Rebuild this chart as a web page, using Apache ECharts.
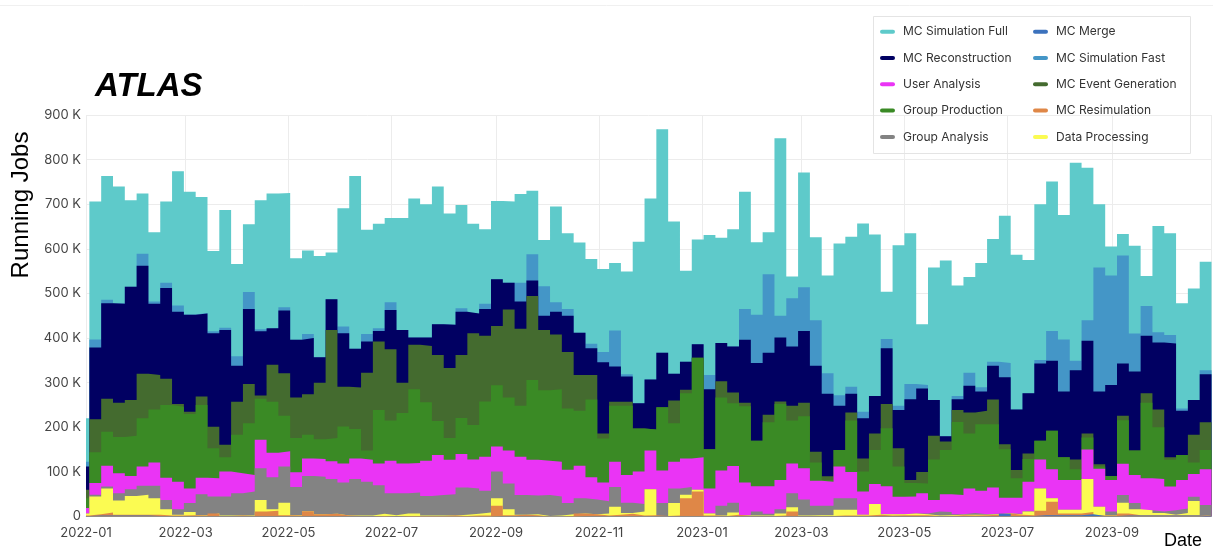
<!DOCTYPE html>
<html><head><meta charset="utf-8">
<script src="https://cdn.jsdelivr.net/npm/echarts@6/dist/echarts.min.js"></script>
<style>html,body{margin:0;padding:0;background:#fff}#c{width:1213px;height:549px}</style>
</head><body><div id="c"></div>
<script>
// Weekly bins (Monday start), values in thousands of running jobs
const weeks = [
'2021-12-27',
'2022-01-03','2022-01-10','2022-01-17','2022-01-24','2022-01-31',
'2022-02-07','2022-02-14','2022-02-21','2022-02-28',
'2022-03-07','2022-03-14','2022-03-21','2022-03-28',
'2022-04-04','2022-04-11','2022-04-18','2022-04-25',
'2022-05-02','2022-05-09','2022-05-16','2022-05-23','2022-05-30',
'2022-06-06','2022-06-13','2022-06-20','2022-06-27',
'2022-07-04','2022-07-11','2022-07-18','2022-07-25',
'2022-08-01','2022-08-08','2022-08-15','2022-08-22','2022-08-29',
'2022-09-05','2022-09-12','2022-09-19','2022-09-26',
'2022-10-03','2022-10-10','2022-10-17','2022-10-24','2022-10-31',
'2022-11-07','2022-11-14','2022-11-21','2022-11-28',
'2022-12-05','2022-12-12','2022-12-19','2022-12-26',
'2023-01-02','2023-01-09','2023-01-16','2023-01-23','2023-01-30',
'2023-02-06','2023-02-13','2023-02-20','2023-02-27',
'2023-03-06','2023-03-13','2023-03-20','2023-03-27',
'2023-04-03','2023-04-10','2023-04-17','2023-04-24',
'2023-05-01','2023-05-08','2023-05-15','2023-05-22','2023-05-29',
'2023-06-05','2023-06-12','2023-06-19','2023-06-26',
'2023-07-03','2023-07-10','2023-07-17','2023-07-24','2023-07-31',
'2023-08-07','2023-08-14','2023-08-21','2023-08-28',
'2023-09-04','2023-09-11','2023-09-18','2023-09-25',
'2023-10-02','2023-10-09','2023-10-16','2023-10-23'
];
const axisStart = '2022-01-01';
const axisEnd = '2023-10-30';

const mcSimulationFull = [97,
309,277,262,194,135,155,182,301,275,260,
180,264,207,152,289,302,256,183,187,227,
105,265,387,234,234,189,251,312,299,309,
249,231,201,167,175,182,199,142,104,215,
170,202,190,186,151,230,362,406,501,341,
204,235,314,236,263,263,163,94,398,49,
257,186,219,340,336,422,362,106,360,338,
136,297,394,248,215,278,275,330,347,299,
349,335,279,444,342,142,65,48,197,67,
238,228,236,250,243];
const mcSimulationFast = [11,
18,8,1,0,27,5,12,14,1,1,
4,5,21,38,5,0,7,0,9,0,
0,15,0,17,6,17,0,0,0,0,
0,8,0,12,0,0,42,59,66,21,
15,0,10,23,81,5,0,0,0,0,
0,0,32,0,0,69,108,176,49,108,
98,102,46,24,16,15,0,21,9,34,
8,0,0,7,29,10,9,32,0,0,
8,67,117,21,46,278,245,242,85,67,
23,19,5,0,9];
const mcReconstruction = [52,
161,214,222,254,242,160,203,207,217,186,
210,257,81,168,144,82,141,129,126,57,
69,120,87,70,24,88,118,16,19,69,
97,97,44,60,105,60,61,35,32,51,
81,95,60,160,79,57,57,112,122,60,
63,30,134,86,103,141,174,139,143,133,
161,193,185,99,42,90,84,125,86,181,
187,80,12,24,60,43,76,150,136,135,
173,157,147,200,208,163,204,117,177,129,
150,255,99,78,108];
const mcEventGeneration = [19,
74,74,77,80,100,77,59,6,5,19,
48,28,74,88,7,83,95,91,91,127,
242,89,93,174,153,160,68,100,126,148,
157,141,206,147,133,197,173,188,135,123,
127,80,55,11,9,9,0,0,0,51,
8,0,0,36,24,8,0,17,6,33,
30,24,8,0,18,29,37,54,41,7,
26,53,19,27,47,30,55,11,18,12,
0,0,0,22,9,5,0,10,0,21,
40,6,0,62,62];
const groupProduction = [22,
69,76,81,90,108,119,163,168,167,163,
67,32,86,116,92,114,80,77,53,44,
52,83,66,21,120,90,113,165,131,76,
49,81,77,124,137,119,114,179,158,162,
137,123,174,99,125,155,96,47,142,86,
146,223,88,164,141,171,102,143,170,96,
117,41,4,37,115,45,76,130,68,30,
22,91,99,164,123,149,142,109,44,51,
42,86,51,24,27,5,9,98,55,169,
116,60,56,26,43];
const userAnalysis = [12,
26,47,45,30,43,52,50,62,33,37,
41,56,45,37,64,55,34,33,39,40,
40,43,46,49,49,73,67,66,79,90,
77,75,65,76,56,74,86,80,77,78,
75,73,50,42,57,62,73,87,73,60,
64,73,56,79,82,73,57,62,66,67,
70,56,54,71,59,52,45,63,39,38,
45,26,40,43,55,53,59,35,36,66,
65,65,67,67,66,85,71,70,63,72,
73,53,64,51,80];
const groupAnalysis = [0,
4,4,16,15,20,28,21,12,20,47,
38,43,50,54,71,72,81,63,79,84,
78,74,82,76,64,49,45,47,44,46,
48,61,57,49,60,58,44,42,47,43,
25,34,33,27,44,23,17,0,29,33,
17,0,0,22,22,1,9,4,9,31,
36,21,21,26,26,0,0,0,0,0,
2,9,7,1,4,1,1,0,1,1,
0,0,0,0,0,0,9,17,14,0,
3,10,10,9,24];
const dataProcessing = [5,
40,54,32,42,45,37,14,2,7,1,
0,1,0,1,26,3,28,1,0,0,
0,0,1,1,5,2,6,6,1,1,
0,3,4,7,17,13,0,2,1,2,
4,0,0,5,18,2,9,58,0,28,
8,4,5,1,5,1,1,1,5,10,
1,2,2,13,13,2,24,3,2,4,
2,1,2,1,2,1,1,0,1,8,
50,8,8,8,74,20,0,24,13,11,
5,1,5,32,0];
const mcResimulation = [1,
3,7,2,2,2,3,1,1,2,1,
6,0,1,0,10,12,2,1,11,4,
5,1,0,0,1,0,1,1,1,1,
2,1,2,2,23,2,3,2,0,0,
1,6,4,1,3,5,1,2,0,1,
40,55,1,0,3,0,0,0,1,10,
0,0,0,1,1,1,3,1,2,2,
2,0,0,2,1,2,3,1,3,2,
10,30,4,4,5,1,1,5,1,1,
1,1,1,1,1];
const mcMerge = [1,
2,2,2,2,2,1,1,1,1,1,
1,1,1,1,1,1,1,1,1,1,
1,1,1,1,0,1,0,0,0,0,
0,0,0,0,1,1,1,1,0,0,
0,1,1,1,1,1,1,1,1,1,
1,1,1,1,1,1,1,1,1,1,
1,1,1,1,1,1,1,1,1,1,
1,1,1,1,1,1,1,6,1,1,
3,3,3,3,5,1,1,2,2,2,
2,2,2,2,1];

const yTicks = [0,100,200,300,400,500,600,700,800,900];
const legendCol1 = ['MC Simulation Full','MC Reconstruction','User Analysis','Group Production','Group Analysis'];
const legendCol2 = ['MC Merge','MC Simulation Fast','MC Event Generation','MC Resimulation','Data Processing'];

// stacking order bottom -> top
const layers = [
  {name:'MC Merge', values:mcMerge, color:'#3c72bd'},
  {name:'MC Resimulation', values:mcResimulation, color:'#df8747'},
  {name:'Data Processing', values:dataProcessing, color:'#fbfb52'},
  {name:'Group Analysis', values:groupAnalysis, color:'#838383'},
  {name:'User Analysis', values:userAnalysis, color:'#ea34f5'},
  {name:'Group Production', values:groupProduction, color:'#3a8a25'},
  {name:'MC Event Generation', values:mcEventGeneration, color:'#446b2f'},
  {name:'MC Reconstruction', values:mcReconstruction, color:'#010062'},
  {name:'MC Simulation Fast', values:mcSimulationFast, color:'#4496c7'},
  {name:'MC Simulation Full', values:mcSimulationFull, color:'#5ecaca'}
];

// cumulative tops (stacked), drawn top layer first so lower layers paint over it
let running = weeks.map(() => 0);
const stackedLayers = layers.map(l => {
  running = running.map((r, i) => r + l.values[i]);
  return {name:l.name, color:l.color, tops: running.slice()};
});

const series = stackedLayers.slice().reverse().map(l => ({
  type:'line', name:l.name, step:'end',
  symbol:'none', showSymbol:false, color:l.color,
  lineStyle:{width:0}, itemStyle:{color:l.color},
  areaStyle:{color:l.color, opacity:1, origin:'start'},
  emphasis:{disabled:true}, silent:true,
  data: weeks.map((d,i)=>[d, l.tops[i]]).concat([[axisEnd, l.tops[l.tops.length-1]]])
}));

const legendIcon = 'path://M2,0 h11 a2,2 0 0 1 0,4 h-11 a2,2 0 0 1 0,-4 z';
const legendBase = {
  orient:'vertical', top:23.7, padding:0, itemGap:10.3,
  itemWidth:21, itemHeight:4, icon:legendIcon,
  itemStyle:{borderWidth:0},
  textStyle:{fontFamily:'Inter', fontSize:12, color:'#333', lineHeight:16},
  selectedMode:false
};

const chart = echarts.init(document.getElementById('c'), null, {renderer:'canvas'});
chart.setOption({
  animation:false,
  backgroundColor:'#fff',
  grid:{left:86, right:1.5, top:115, bottom:32.5, containLabel:false},
  legend:[
    Object.assign({}, legendBase, {left:880, data:legendCol1}),
    Object.assign({}, legendBase, {left:1033, data:legendCol2})
  ],
  xAxis:{
    type:'time', min:axisStart, max:axisEnd, splitNumber:10,
    axisLine:{show:true, lineStyle:{color:'#e3e3e3'}},
    axisTick:{show:false},
    splitLine:{show:true, lineStyle:{color:'#ececec'}},
    axisLabel:{formatter:'{yyyy}-{MM}', color:'#444', fontFamily:'Inter', fontSize:13, margin:10}
  },
  yAxis:{
    type:'value', min:yTicks[0], max:yTicks[yTicks.length-1], interval:100,
    axisLine:{show:false}, axisTick:{show:false},
    splitLine:{show:true, lineStyle:{color:'#ececec'}},
    axisLabel:{formatter:v => v === 0 ? '0' : v + ' K', color:'#444', fontFamily:'Inter', fontSize:13, margin:5}
  },
  graphic:[
    {type:'line', silent:true, shape:{x1:0,y1:5.5,x2:1213,y2:5.5}, style:{stroke:'#f0f0f0', lineWidth:1}},
    {type:'rect', silent:true, z:10, shape:{x:873.5,y:16.5,width:317,height:137}, style:{fill:'none', stroke:'#e4e4e4', lineWidth:1}},
    {type:'text', silent:true, x:95, y:87, style:{text:'ATLAS', font:'italic bold 33px "Liberation Sans", Arial, sans-serif', fill:'#000', align:'left', verticalAlign:'middle', textAlign:'left', textVerticalAlign:'middle'}},
    {type:'text', silent:true, x:21, y:205, rotation:Math.PI/2, style:{text:'Running Jobs', font:'24px "Liberation Sans", Arial, sans-serif', fill:'#000', align:'center', verticalAlign:'middle', textAlign:'center', textVerticalAlign:'middle'}},
    {type:'text', silent:true, x:1183, y:541, style:{text:'Date', font:'18px "Liberation Sans", Arial, sans-serif', fill:'#000', align:'center', verticalAlign:'middle', textAlign:'center', textVerticalAlign:'middle'}}
  ],
  series: series
});
</script>
</body></html>
